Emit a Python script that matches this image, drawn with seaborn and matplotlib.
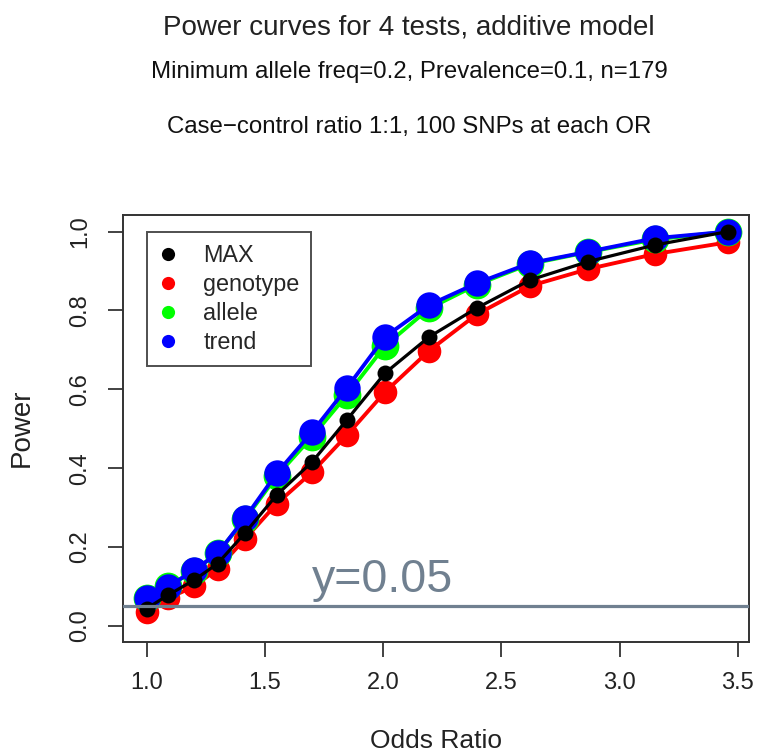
import pandas as pd
from matplotlib import pyplot as plt
from matplotlib.lines import Line2D
import seaborn as sns

# odds ratios at which 100 SNPs were simulated
odds_ratio = [1.0, 1.09, 1.2, 1.3, 1.415, 1.55, 1.7, 1.846, 2.008, 2.195, 2.396, 2.621, 2.868, 3.15, 3.46]

power_max = [0.044, 0.078, 0.116, 0.158, 0.235, 0.332, 0.416, 0.522, 0.641, 0.733, 0.806, 0.877, 0.924, 0.966, 1.0]
power_genotype = [0.036, 0.07, 0.10, 0.145, 0.22, 0.31, 0.39, 0.483, 0.593, 0.698, 0.79, 0.862, 0.905, 0.943, 0.973]
power_allele = [0.07, 0.10, 0.14, 0.185, 0.27, 0.38, 0.48, 0.585, 0.71, 0.805, 0.865, 0.918, 0.948, 0.98, 1.0]
power_trend = [0.07, 0.099, 0.141, 0.184, 0.273, 0.387, 0.492, 0.603, 0.733, 0.814, 0.869, 0.92, 0.949, 0.983, 1.0]

tests = ["MAX", "genotype", "allele", "trend"]
colors = {"MAX": "black", "genotype": "#ff0000", "allele": "#00ff00", "trend": "#0000ff"}

df = pd.DataFrame({
    "OR": odds_ratio * 4,
    "power": power_max + power_genotype + power_allele + power_trend,
    "test": [t for t in tests for _ in odds_ratio],
})

sns.set_style("white")
plt.rcParams["font.family"] = ["Liberation Sans", "DejaVu Sans"]

fig = plt.figure(figsize=(7.57, 7.52), dpi=100)
ax = fig.add_axes([0.1621, 0.1467, 0.8274, 0.5674])

# draw order and point size per test (red under, black on top)
styles = {"genotype": (17, 2.8), "allele": (20, 2.8), "trend": (19, 2.8), "MAX": (11.5, 2.3)}
for t in ["genotype", "allele", "trend", "MAX"]:
    ms, lw = styles[t]
    sns.lineplot(data=df[df["test"] == t], x="OR", y="power", color=colors[t], marker="o",
                 markersize=ms, markeredgewidth=0, linewidth=lw, ax=ax, legend=False)

ax.axhline(0.05, color="slategray", linewidth=2.3, zorder=5)
ax.text(1.698, 0.086, "y=0.05", color="slategray", fontsize=33.5)

ax.set_xlim(0.8985, 3.548)
ax.set_ylim(-0.04, 1.042)
ax.set_xticks([1.0, 1.5, 2.0, 2.5, 3.0, 3.5])
ax.set_yticks([0.0, 0.2, 0.4, 0.6, 0.8, 1.0])
ax.set_xticklabels(["1.0", "1.5", "2.0", "2.5", "3.0", "3.5"])
ax.set_yticklabels(["0.0", "0.2", "0.4", "0.6", "0.8", "1.0"], rotation=90, va="center")
ax.tick_params(axis="both", direction="out", length=10.8, width=1.2, color="#222222",
               labelsize=17, labelcolor="#222222", bottom=True, left=True)
ax.tick_params(axis="x", pad=11)
ax.tick_params(axis="y", pad=12)
ax.set_xlabel("")
ax.set_ylabel("")
for s in ax.spines.values():
    s.set_color("#333333")
    s.set_linewidth(1.4)

handles = [Line2D([], [], linestyle="", marker="o", markersize=9.5, markeredgewidth=0,
                  color=colors[t]) for t in tests]
leg = ax.legend(handles, tests, loc="upper left", bbox_to_anchor=(0.039, 0.96),
                fontsize=16.8, frameon=True, fancybox=False, borderaxespad=0,
                handletextpad=1.1, labelspacing=0.26, borderpad=0.5, handlelength=0.8)
leg.get_frame().set_edgecolor("#222222")
leg.get_frame().set_linewidth(1.4)

H = 752
fig.text(409 / 757, 1 - 35 / H, "Power curves for 4 tests, additive model", ha="center", va="baseline",
         fontsize=20, color="#222222")
fig.text(409 / 757, 1 - 78 / H, "Minimum allele freq=0.2, Prevalence=0.1, n=179", ha="center",
         va="baseline", fontsize=17.3, color="#111111")
fig.text(409 / 757, 1 - 133 / H, "Case\u2212control ratio 1:1, 100 SNPs at each OR", ha="center",
         va="baseline", fontsize=17.3, color="#111111")
fig.text(436 / 757, 1 - 748 / H, "Odds Ratio", ha="center", va="baseline", fontsize=19, color="#222222")
fig.text(22 / 757, 1 - 428 / H, "Power", ha="center", va="center", rotation=90, fontsize=20,
         color="#222222")

plt.savefig("out.png", dpi=100)
